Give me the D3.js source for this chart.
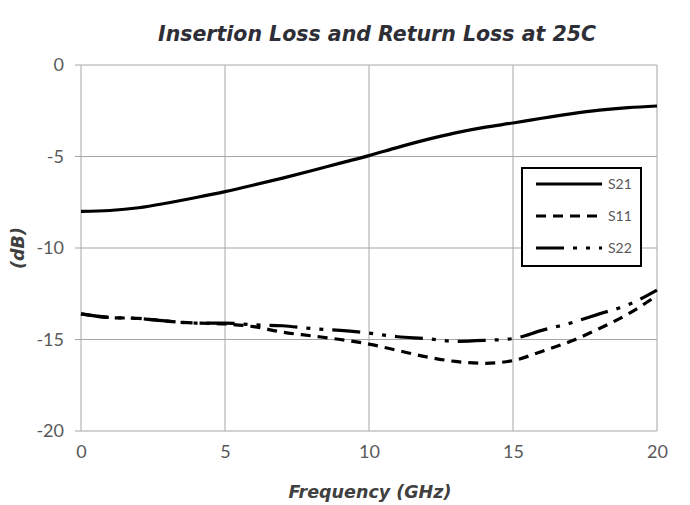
<!DOCTYPE html>
<html><head><meta charset="utf-8">
<script src="https://cdn.jsdelivr.net/npm/d3@7"></script>
<style>body{margin:0;background:#fff;} svg{display:block;}</style>
</head><body>
<svg id="c" width="690" height="505"></svg>
<script>
const freq = [0,1,2,3,4,5,6,7,8,9,10,11,12,13,14,15,16,17,18,19,20];
const s21 = [-8.0,-7.95,-7.8,-7.54,-7.24,-6.92,-6.56,-6.18,-5.78,-5.36,-4.95,-4.5,-4.08,-3.71,-3.41,-3.17,-2.91,-2.67,-2.47,-2.33,-2.24];
const s11 = [-13.6,-13.8,-13.85,-14.0,-14.1,-14.15,-14.3,-14.6,-14.8,-15.0,-15.25,-15.6,-15.95,-16.2,-16.3,-16.15,-15.65,-15.1,-14.4,-13.6,-12.6];
const s22 = [-13.6,-13.8,-13.85,-14.0,-14.1,-14.1,-14.2,-14.25,-14.4,-14.5,-14.65,-14.85,-14.95,-15.1,-15.05,-14.95,-14.5,-14.1,-13.6,-13.1,-12.3];
const xTicks = [0,5,10,15,20];
const yTicks = [0,-5,-10,-15,-20];
const seriesNames = ["S21","S11","S22"];
const seriesData = [s21,s11,s22];
const dashes = [null,"10,7","28,9,4,9,4,9"];

const svg = d3.select("#c");
const L=81,R=657,T=65,B=431;
const x = d3.scaleLinear().domain([0,20]).range([L,R]);
const y = d3.scaleLinear().domain([-20,0]).range([B,T]);
const font = "Lato, 'Open Sans', sans-serif";
const tfont = "'DejaVu Sans', sans-serif";

const g = svg.append("g");
g.selectAll("line.h").data(yTicks).join("line")
  .attr("x1",L-6).attr("x2",R).attr("y1",d=>y(d)).attr("y2",d=>y(d))
  .attr("stroke","#a6a6a6").attr("stroke-width",1);
g.selectAll("line.v").data(xTicks).join("line")
  .attr("x1",d=>x(d)).attr("x2",d=>x(d)).attr("y1",T).attr("y2",B)
  .attr("stroke","#a6a6a6").attr("stroke-width",1);

const fmt = d => String(d);
const yAxis = svg.append("g").attr("transform",`translate(${L-6},0)`)
  .call(d3.axisLeft(y).tickValues(yTicks).tickFormat(fmt).tickSize(0).tickPadding(11));
yAxis.select(".domain").remove();
yAxis.selectAll("text").attr("font-family",font).attr("font-size",18).attr("fill","#595959");
const xAxis = svg.append("g").attr("transform",`translate(0,${B})`)
  .call(d3.axisBottom(x).tickValues(xTicks).tickFormat(fmt).tickSize(0).tickPadding(14));
xAxis.select(".domain").remove();
xAxis.selectAll("text").attr("font-family",font).attr("font-size",18).attr("fill","#595959");

const line = d3.line().x((d,i)=>x(freq[i])).y(d=>y(d)).curve(d3.curveMonotoneX);
seriesData.forEach((s,k)=>{
  svg.append("path").datum(s).attr("d",line).attr("fill","none")
    .attr("stroke","#000").attr("stroke-width",3.2)
    .attr("stroke-dasharray",dashes[k]);
});

const lg = svg.append("g");
lg.append("rect").attr("x",522).attr("y",168).attr("width",119).attr("height",98)
  .attr("fill","#fff").attr("stroke","#000").attr("stroke-width",2);
seriesNames.forEach((n,k)=>{
  const yy = 184 + k*32;
  lg.append("line").attr("x1",536).attr("x2",602).attr("y1",yy).attr("y2",yy)
    .attr("stroke","#000").attr("stroke-width",3.2).attr("stroke-dasharray",dashes[k]);
  lg.append("text").attr("x",608).attr("y",yy+5).text(n)
    .attr("font-family",font).attr("font-size",14).attr("fill","#595959");
});

svg.append("text").attr("x",377).attr("y",41).attr("text-anchor","middle")
  .attr("font-family",tfont).attr("font-size",20.5).attr("font-weight","bold").attr("font-style","italic")
  .attr("fill","#2e2e36").text("Insertion Loss and Return Loss at 25C");
svg.append("text").attr("x",370).attr("y",498).attr("text-anchor","middle")
  .attr("font-family",tfont).attr("font-size",17.5).attr("font-weight","bold").attr("font-style","italic")
  .attr("fill","#404040").text("Frequency (GHz)");
svg.append("text").attr("transform","translate(24,248) rotate(-90)").attr("text-anchor","middle")
  .attr("font-family",tfont).attr("font-size",17.5).attr("font-weight","bold").attr("font-style","italic")
  .attr("fill","#404040").text("(dB)");
</script>
</body></html>
